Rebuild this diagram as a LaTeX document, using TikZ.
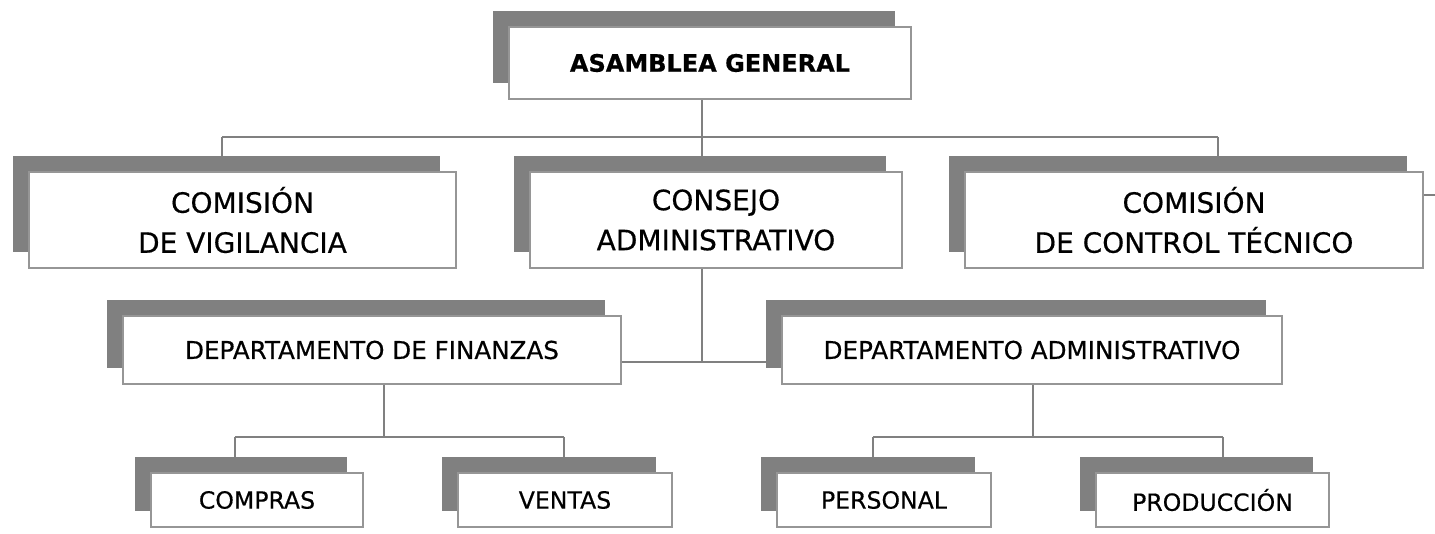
\documentclass[tikz,border=0pt]{standalone}
\usepackage{fontspec}
\setmainfont{DejaVu Sans}[FakeBold=0.5]
\usetikzlibrary{shadows,backgrounds}
\definecolor{shadowgray}{RGB}{128,128,128}
\definecolor{bordergray}{RGB}{150,150,150}
\definecolor{linegray}{RGB}{128,128,128}
\tikzset{
  orgbox/.style={draw=bordergray, line width=1.6pt, fill=white, inner sep=0pt, align=center,
    general shadow={fill=shadowgray, shadow xshift=-16pt, shadow yshift=16pt}},
  lvlone/.style={orgbox, font=\fontsize{24}{28}\selectfont\bfseries},
  lvltwo/.style={orgbox, font=\fontsize{28}{40}\selectfont},
  lvlthree/.style={orgbox, font=\fontsize{24.6}{28}\selectfont},
  lvlfour/.style={orgbox, font=\fontsize{23.6}{28}\selectfont},
  conn/.style={draw=linegray, line width=1.6pt}
}
\begin{document}
\begin{tikzpicture}[x=1pt,y=-1pt]
\useasboundingbox (0,0) rectangle (1435,533);
% boxes
\node[lvlone, minimum width=402pt, minimum height=72pt] (ag) at (710,63) {ASAMBLEA GENERAL};
\node[lvltwo, minimum width=427pt, minimum height=96pt] (cv) at (242.5,220) {COMISIÓN\\DE VIGILANCIA};
\node[lvltwo, minimum width=372pt, minimum height=96pt] (ca) at (716,220) {CONSEJO\\ADMINISTRATIVO};
\node[lvltwo, minimum width=458pt, minimum height=96pt] (cct) at (1194,220) {COMISIÓN\\DE CONTROL TÉCNICO};
\node[lvlthree, minimum width=498pt, minimum height=68pt] (df) at (372,350) {DEPARTAMENTO DE FINANZAS};
\node[lvlthree, minimum width=500pt, minimum height=68pt] (da) at (1032,350) {DEPARTAMENTO ADMINISTRATIVO};
\node[lvlfour, minimum width=212pt, minimum height=54pt] (compras) at (257,500) {COMPRAS};
\node[lvlfour, minimum width=214pt, minimum height=54pt] (ventas) at (565,500) {VENTAS};
\node[lvlfour, minimum width=214pt, minimum height=54pt] (personal) at (884,500) {PERSONAL};
\node[lvlfour, minimum width=233pt, minimum height=54pt] (produccion) at (1212.5,500) {PRODUCCIÓN};
% bus coordinates
\coordinate (b1) at (702,137);
\coordinate (b1l) at (222,137);
\coordinate (b1r) at (1218,137);
\coordinate (b2) at (702,362);
\coordinate (b3) at (384,437);
\coordinate (b3l) at (235,437);
\coordinate (b3r) at (564,437);
\coordinate (b4) at (1033,437);
\coordinate (b4l) at (873,437);
\coordinate (b4r) at (1223,437);
\coordinate (offr) at (1435,195);
\begin{scope}[on background layer]
\draw[conn] (ag.south -| b1) -- (b1);
\draw[conn] (b1l) -- (b1r);
\draw[conn] (b1l) -- (b1l |- cv.north);
\draw[conn] (b1) -- (b1 |- ca.north);
\draw[conn] (b1r) -- (b1r |- cct.north);
\draw[conn] (ca.south -| b2) -- (b2);
\draw[conn] (df.east |- b2) -- (da.west |- b2);
\draw[conn] (df.south -| b3) -- (b3);
\draw[conn] (b3l) -- (b3r);
\draw[conn] (b3l) -- (b3l |- compras.north);
\draw[conn] (b3r) -- (b3r |- ventas.north);
\draw[conn] (da.south -| b4) -- (b4);
\draw[conn] (b4l) -- (b4r);
\draw[conn] (b4l) -- (b4l |- personal.north);
\draw[conn] (b4r) -- (b4r |- produccion.north);
\draw[conn] (cct.east |- offr) -- (offr);
\end{scope}
\end{tikzpicture}
\end{document}
